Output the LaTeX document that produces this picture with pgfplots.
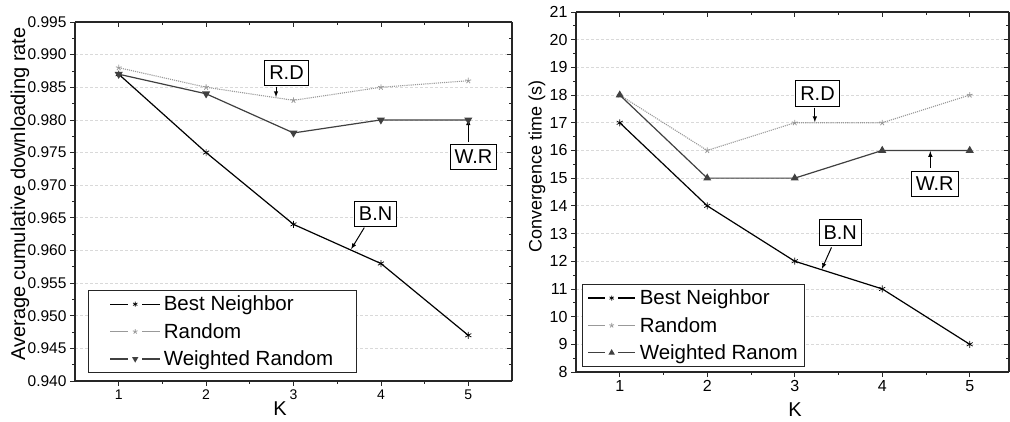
\documentclass[border=0pt]{standalone}
\usepackage{pgfplots}
\pgfplotsset{compat=1.18}
\usepackage{fontspec}
\setmainfont{Liberation Sans}
\setsansfont{Liberation Sans}
\pgfplotsset{
  base/.style={
    scale only axis, clip=false,
    axis line style={line width=1.1pt, black!85},
    major tick length=5pt, minor tick length=3pt,
    every tick/.style={black!85, line width=0.8pt},
    minor x tick num=1, minor y tick num=1,
  },
  legimgL/.style={legend image code/.code={
    \draw[##1, solid, mark=none] (0pt,0pt) -- (18pt,0pt);
    \draw[##1, solid, mark=none] (32pt,0pt) -- (50pt,0pt);
    \draw[##1, solid, mark size=2.5pt] plot coordinates {(25pt,0pt)};}},
  legimgR/.style={legend image code/.code={
    \draw[##1, solid, mark=none] (0pt,0pt) -- (17pt,0pt);
    \draw[##1, solid, mark=none] (30pt,0pt) -- (47pt,0pt);
    \draw[##1, solid, mark size=2.5pt] plot coordinates {(23.5pt,0pt)};}},
}
\tikzset{ann/.style={draw=black, line width=1pt, fill=white, inner xsep=4.5pt, inner ysep=6pt, font=\fontsize{20}{22}\selectfont}}
\begin{document}
\begin{tikzpicture}
\useasboundingbox (0,0) rectangle (1010pt,422pt);
% ---------- left plot ----------
\begin{axis}[base, at={(75pt,41pt)}, anchor=south west, width=437pt, height=359pt,
  xmin=0.5, xmax=5.5, ymin=0.940, ymax=0.995,
  xtick={1,2,3,4,5}, ytick={0.940,0.945,...,0.9951},
  axis x line*=bottom, axis y line*=left, tick align=outside,
  ymajorgrids, grid style={densely dashed, gray!30, line width=0.8pt},
  yticklabel style={font=\fontsize{15.5}{17}\selectfont, /pgf/number format/.cd, fixed, fixed zerofill, precision=3, assume math mode=true},
  xticklabel style={font=\fontsize{14}{16}\selectfont, /pgf/number format/assume math mode=true},
  ylabel={Average cumulative downloading rate},
  ylabel style={font=\fontsize{20}{22}\selectfont, at={(axis description cs:-0.126,0.521)}, anchor=center},
  legimgL,
  legend style={at={(axis description cs:0.03,0.022)}, anchor=south west, draw=black!85, line width=1pt,
    font=\fontsize{20.5}{23}\selectfont, inner xsep=21pt, inner ysep=3.5pt, row sep=7pt, column sep=1pt,
    cells={anchor=west}},
]
\addplot[black, line width=1.2pt, mark=asterisk, mark size=3.5pt, mark options={line width=0.7pt}]
  coordinates {(1,0.987) (2,0.975) (3,0.964) (4,0.958) (5,0.947)};
\addlegendentry{Best Neighbor}
\addplot[gray!80, line width=1.1pt, densely dotted, mark=star, mark size=3pt, mark options={solid, line width=0.8pt}]
  coordinates {(1,0.988) (2,0.985) (3,0.983) (4,0.985) (5,0.986)};
\addlegendentry{Random}
\addplot[black!75, line width=1.2pt, mark=triangle*, mark size=3.5pt, mark options={rotate=180, solid}]
  coordinates {(1,0.987) (2,0.984) (3,0.978) (4,0.980) (5,0.980)};
\addlegendentry{Weighted Random}
\node[ann] at (axis cs:2.92,0.9872) {R.D};
\draw[-latex, line width=1pt] (axis cs:2.80,0.9851) -- (axis cs:2.80,0.9835);
\node[ann] at (axis cs:5.06,0.9743) {W.R};
\draw[-latex, line width=1pt] (axis cs:5.0,0.9766) -- (axis cs:5.0,0.9801);
\node[ann] at (axis cs:3.94,0.9656) {B.N};
\draw[-latex, line width=1pt] (axis cs:3.81,0.9635) -- (axis cs:3.66,0.9602);
\node[font=\fontsize{20}{22}\selectfont] at (axis description cs:0.469,0) [yshift=-27.5pt] {K};
\end{axis}
\begin{axis}[base, at={(75pt,41pt)}, anchor=south west, width=437pt, height=359pt,
  xmin=0.5, xmax=5.5, ymin=0.940, ymax=0.995,
  xtick={1,2,3,4,5}, ytick={0.940,0.945,...,0.9951},
  axis x line*=top, axis y line*=right, tick align=inside,
  xticklabels={}, yticklabels={}]
\end{axis}
% ---------- right plot ----------
\begin{axis}[base, at={(576pt,50pt)}, anchor=south west, width=433pt, height=360pt,
  xmin=0.5, xmax=5.449, ymin=8, ymax=21,
  xtick={1,2,3,4,5}, ytick={8,9,...,21},
  axis x line*=bottom, axis y line*=left, tick align=outside,
  ymajorgrids, grid style={densely dashed, gray!30, line width=0.8pt},
  yticklabel style={font=\fontsize{16}{18}\selectfont, /pgf/number format/assume math mode=true},
  xticklabel style={font=\fontsize{16}{18}\selectfont, /pgf/number format/assume math mode=true},
  ylabel={Convergence time (s)},
  ylabel style={font=\fontsize{18}{20}\selectfont, at={(axis description cs:-0.090,0.572)}, anchor=center},
  legimgR,
  legend style={at={(axis description cs:0.014,0.014)}, anchor=south west, draw=black!85, line width=1pt,
    font=\fontsize{20.5}{23}\selectfont, inner xsep=5pt, inner ysep=3.5pt, row sep=7pt, column sep=2pt,
    cells={anchor=west}},
]
\addplot[black, line width=1.2pt, mark=asterisk, mark size=3.5pt, mark options={line width=0.7pt}]
  coordinates {(1,17) (2,14) (3,12) (4,11) (5,9)};
\addlegendentry{Best Neighbor}
\addplot[gray!80, line width=1.1pt, densely dotted, mark=star, mark size=3pt, mark options={solid, line width=0.8pt}]
  coordinates {(1,18) (2,16) (3,17) (4,17) (5,18)};
\addlegendentry{Random}
\addplot[black!75, line width=1.2pt, mark=triangle*, mark size=3.5pt, mark options={solid}]
  coordinates {(1,18) (2,15) (3,15) (4,16) (5,16)};
\addlegendentry{Weighted Ranom}
\node[ann] at (axis cs:3.26,18.07) {R.D};
\draw[-latex, line width=1pt] (axis cs:3.23,17.55) -- (axis cs:3.23,17.02);
\node[ann] at (axis cs:4.6,14.79) {W.R};
\draw[-latex, line width=1pt] (axis cs:4.55,15.37) -- (axis cs:4.55,15.98);
\node[ann] at (axis cs:3.52,13.05) {B.N};
\draw[-latex, line width=1pt] (axis cs:3.42,12.5) -- (axis cs:3.31,11.72);
\node[font=\fontsize{20}{22}\selectfont] at (axis description cs:0.506,0) [yshift=-37.5pt] {K};
\end{axis}
\begin{axis}[base, at={(576pt,50pt)}, anchor=south west, width=433pt, height=360pt,
  xmin=0.5, xmax=5.449, ymin=8, ymax=21,
  xtick={1,2,3,4,5}, ytick={8,9,...,21},
  axis x line*=top, axis y line*=right, tick align=inside,
  xticklabels={}, yticklabels={}]
\end{axis}
\end{tikzpicture}
\end{document}
